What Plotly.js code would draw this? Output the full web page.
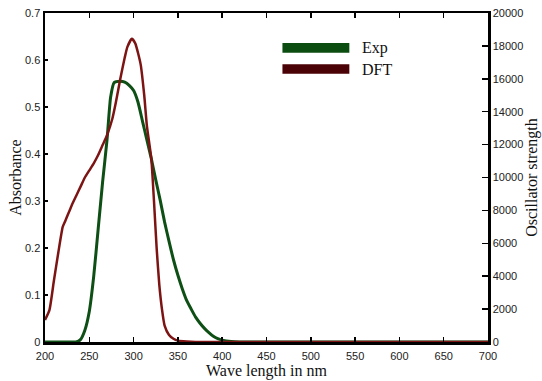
<!DOCTYPE html>
<html>
<head>
<meta charset="utf-8">
<script src="https://cdn.plot.ly/plotly-3.0.1.min.js"></script>
<style>html,body{margin:0;padding:0;background:#fff;}#chart{width:542px;height:381px;}</style>
</head>
<body>
<div id="chart"></div>
<script>
// Experimental absorbance spectrum
var expWavelength = [200, 220, 230, 235, 240, 245, 250, 255, 260, 265, 270, 274, 278, 285, 290, 295, 300, 305, 310, 315, 320, 325, 330, 335, 340, 345, 350, 355, 360, 365, 370, 375, 380, 385, 390, 395, 400, 410, 420, 500, 600, 700];
var expAbsorbance = [0, 0, 0, 0, 0.005, 0.025, 0.065, 0.14, 0.24, 0.34, 0.43, 0.52, 0.552, 0.555, 0.553, 0.546, 0.535, 0.51, 0.47, 0.43, 0.39, 0.345, 0.302, 0.255, 0.214, 0.175, 0.142, 0.113, 0.088, 0.07, 0.053, 0.04, 0.029, 0.02, 0.012, 0.007, 0.004, 0.001, 0, 0, 0, 0];
// DFT computed spectrum (oscillator strength scale)
var dftWavelength = [200, 205, 210, 215, 220, 223, 230, 235, 240, 245, 250, 255, 260, 265, 270, 276, 280, 285, 290, 293, 298, 302, 305, 308, 312, 315, 320, 323, 326, 329, 332, 335, 340, 345, 350, 360, 370, 500, 600, 700];
var dftStrength = [1340, 1940, 3710, 5430, 7000, 7370, 8290, 8860, 9430, 10000, 10430, 10860, 11370, 11970, 12570, 13570, 14570, 16000, 17290, 17940, 18430, 18140, 17570, 16860, 15000, 13140, 11140, 8570, 5710, 3490, 2000, 1000, 430, 200, 86, 29, 0, 0, 0, 0];
var xTicks = [200, 250, 300, 350, 400, 450, 500, 550, 600, 650, 700];
var seriesNames = ["Exp", "DFT"];
var seriesColors = ["#0d4f14", "#7d1414"];
var legendColors = ["#0b4d10", "#4a0206"];
var axisTitles = ["Wave length in nm", "Absorbance", "Oscillator strength"];

var traces = [
  {x: expWavelength, y: expAbsorbance, name: seriesNames[0], type: "scatter", mode: "lines",
   line: {color: seriesColors[0], width: 3, shape: "spline", smoothing: 0.5}, yaxis: "y", showlegend: false},
  {x: dftWavelength, y: dftStrength, name: seriesNames[1], type: "scatter", mode: "lines",
   line: {color: seriesColors[1], width: 2.5, shape: "spline", smoothing: 0.5}, yaxis: "y2", showlegend: false}
];

var tickFont = {family: "Liberation Sans, Arial, sans-serif", size: 11, color: "#222"};
var titleFont = {family: "Liberation Serif, Times New Roman, serif", size: 16, color: "#111"};

var layout = {
  width: 542, height: 381,
  margin: {l: 45, r: 54, t: 13, b: 39},
  paper_bgcolor: "#fff", plot_bgcolor: "#fff",
  showlegend: false,
  xaxis: {
    range: [200, 700], tickvals: xTicks, ticks: "inside", ticklen: 5, tickwidth: 1.5, tickcolor: "#000",
    showline: true, linewidth: 2.5, linecolor: "#000", mirror: "ticks", showgrid: false, zeroline: false,
    tickfont: tickFont, ticklabelstandoff: 2
  },
  yaxis: {
    range: [0, 0.7], dtick: 0.1, ticks: "inside", ticklen: 3, tickwidth: 1.5, tickcolor: "#000",
    showline: true, linewidth: 2.5, linecolor: "#000", showgrid: false, zeroline: false,
    tickfont: tickFont,
    title: {text: axisTitles[1], font: titleFont, standoff: 0}
  },
  yaxis2: {
    overlaying: "y", side: "right", range: [0, 20000], dtick: 2000, tickformat: "d",
    ticks: "inside", ticklen: 6, tickwidth: 1.5, tickcolor: "#000",
    showline: true, linewidth: 2.5, linecolor: "#000", showgrid: false, zeroline: false,
    tickfont: tickFont,
    title: {text: axisTitles[2], font: titleFont, standoff: 4}
  },
  shapes: [
    {type: "rect", xref: "paper", yref: "paper", x0: 0.536, x1: 0.687, y0: 0.879, y1: 0.909,
     fillcolor: legendColors[0], line: {width: 0}},
    {type: "rect", xref: "paper", yref: "paper", x0: 0.536, x1: 0.687, y0: 0.815, y1: 0.844,
     fillcolor: legendColors[1], line: {width: 0}}
  ],
  annotations: [
    {xref: "paper", yref: "paper", x: 0.712, y: 0.894, text: seriesNames[0], showarrow: false,
     xanchor: "left", yanchor: "middle", font: {family: "Liberation Serif, serif", size: 16, color: "#111"}},
    {xref: "paper", yref: "paper", x: 0.712, y: 0.829, text: seriesNames[1], showarrow: false,
     xanchor: "left", yanchor: "middle", font: {family: "Liberation Serif, serif", size: 16, color: "#111"}},
    {xref: "paper", yref: "paper", x: 0.5, y: -0.1185, text: axisTitles[0], showarrow: false, borderpad: 0,
     xanchor: "center", yanchor: "bottom", font: titleFont}
  ]
};

Plotly.newPlot("chart", traces, layout, {displayModeBar: false, staticPlot: true});
</script>
</body>
</html>
